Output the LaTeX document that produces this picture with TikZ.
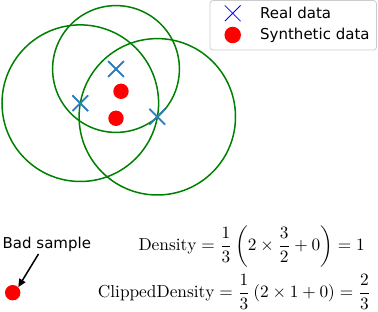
\documentclass[tikz,border=0pt]{standalone}
\usepackage{amsmath}
\usepackage{fontspec}
\newfontfamily\dejavu{DejaVu Sans}
\usetikzlibrary{shapes.misc,arrows.meta}
\tikzset{
  realpt/.style={cross out, draw=realblue, line width=1.6pt, minimum size=14pt, inner sep=0pt},
  legreal/.style={cross out, draw=blue, line width=0.8pt, minimum size=15pt, inner sep=0pt},
  synpt/.style={circle, fill=red, minimum size=15.4pt, inner sep=0pt},
  kernel/.style={draw=kgreen, line width=1.5pt},
  sanslbl/.style={font=\dejavu\fontsize{15}{18}\selectfont, inner sep=0pt, anchor=base west},
  eqlbl/.style={inner sep=0pt, anchor=base west},
  legbox/.style={draw=black!20, fill=white, rounded corners=3pt, line width=0.8pt}
}
\definecolor{realblue}{HTML}{2F7EBC}
\definecolor{kgreen}{HTML}{008000}
\begin{document}
\begin{tikzpicture}[x=1pt,y=-1pt]
\useasboundingbox (0,0) rectangle (378,312);
% real data points (also kernel centres)
\node[realpt] (r1) at (116,69) {};
\node[realpt] (r2) at (80.3,103.2) {};
\node[realpt] (r3) at (157.3,116.8) {};
% kernels
\draw[kernel] (r1) circle[radius=63.4];
\draw[kernel] (r2) circle[radius=78.3];
\draw[kernel] (r3) circle[radius=78.2];
\node[realpt] at (r1) {};
\node[realpt] at (r2) {};
\node[realpt] at (r3) {};
% synthetic points
\node[synpt] (s1) at (121,91.3) {};
\node[synpt] (s2) at (116,118.3) {};
% legend
\draw[legbox] (210,0.5) rectangle (376.5,50);
\node[legreal] (lr) at (232.7,13.3) {};
\node[synpt, minimum size=16.5pt] (ls) at (232.7,35) {};
\node[sanslbl] (lrt) at (260,18.5) {Real data};
\node[sanslbl] (lst) at (260,40) {Synthetic data};
% bad sample
\node[sanslbl] (bad) at (2.5,248.5) {Bad sample};
\node[synpt] (bs) at (12.7,292.7) {};
\coordinate (astart) at (38.5,254);
\draw[line width=1.5pt, -{Triangle[length=8pt,width=7pt]}] (astart) -- (bs.north east);
% equations
\node[eqlbl] (eq1) at (138.3,250.7) {\scalebox{1.73}{$\mathrm{Density} = \dfrac{1}{3}\left(2\times\dfrac{3}{2}+0\right) = 1$}};
\node[eqlbl] (eq2) at (97.7,297.7) {\scalebox{1.73}{$\mathrm{ClippedDensity} = \dfrac{1}{3}\left(2\times 1+0\right) = \dfrac{2}{3}$}};
\end{tikzpicture}
\end{document}
